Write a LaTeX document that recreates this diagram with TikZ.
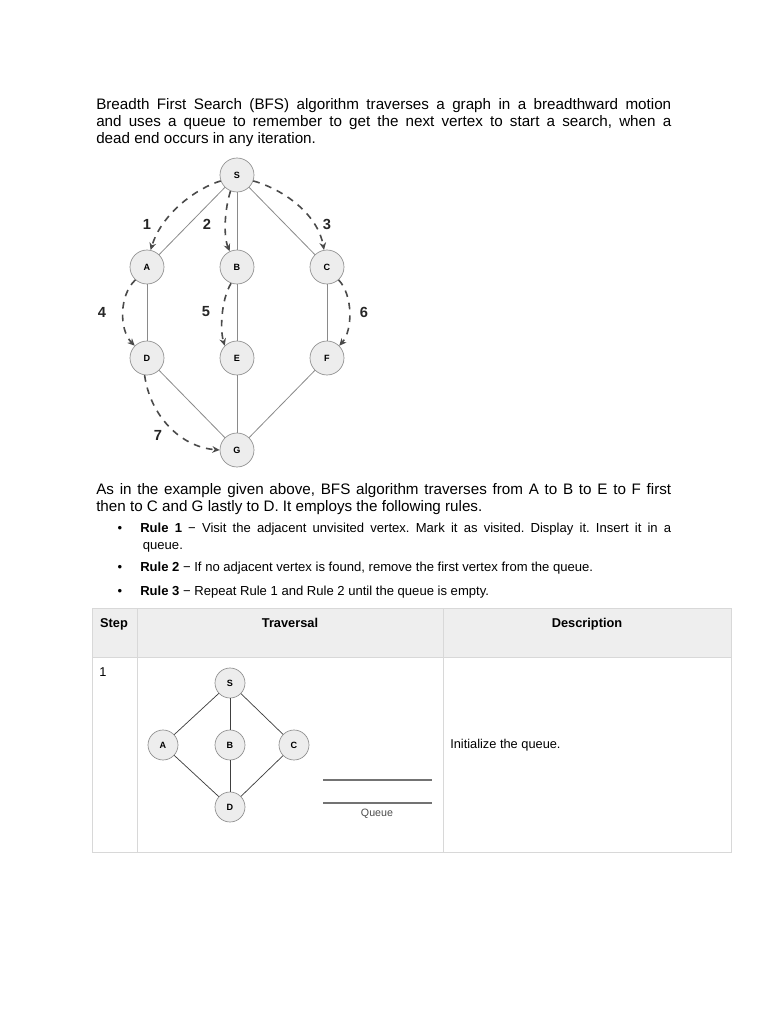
\documentclass[tikz,border=0pt]{standalone}
\usepackage{fontspec}
\setmainfont{Liberation Sans}
\usetikzlibrary{arrows.meta}
\frenchspacing
\definecolor{nodefill}{HTML}{EDEDED}
\definecolor{nodeline}{HTML}{8E8E8E}
\definecolor{edgecol}{HTML}{8A8A8A}
\definecolor{travcol}{HTML}{4A4A4A}
\definecolor{tblline}{HTML}{D8D8D8}
\definecolor{tblhead}{HTML}{EEEEEE}
\begin{document}
\begin{tikzpicture}[x=0.75pt,y=-0.75pt,
 vtx/.style={circle,draw=nodeline,fill=nodefill,minimum size=25.5pt,inner sep=0pt,line width=0.5pt,font=\fontsize{6.8}{7}\selectfont\bfseries},
 svtx/.style={vtx,minimum size=22.5pt},
 edge/.style={draw=edgecol,line width=0.6pt},
 sedge/.style={draw=black!75,line width=0.55pt},
 trav/.style={draw=travcol,line width=1.2pt,dash pattern=on 5pt off 4.5pt,-{Stealth[length=5.5pt,width=5pt]}},
 num/.style={inner sep=0pt,font=\fontsize{11}{12}\selectfont\bfseries,text=black!85},
 para/.style={anchor=base west,inner sep=0pt,text width=431.25pt,align=justify,font=\fontsize{11.4}{12.75}\selectfont},
 rule/.style={anchor=base west,inner sep=0pt,text width=398.25pt,align=justify,font=\fontsize{9.8}{12.75}\selectfont},
 bul/.style={anchor=base,inner sep=0pt,font=\fontsize{9.8}{12.75}\selectfont},
 tbl/.style={draw=tblline,line width=0.75pt},
 head/.style={anchor=base,inner sep=0pt,font=\fontsize{9.6}{11}\selectfont\bfseries},
 cell/.style={anchor=base west,inner sep=0pt,font=\fontsize{9.6}{11}\selectfont}
]
\useasboundingbox (0,0) rectangle (768,1024);

% ---- text ----
\node[para] (p1) at (96,109) {Breadth First Search (BFS) algorithm traverses a graph in a breadthward motion\linebreak and uses a queue to remember to get the next vertex to start a search, when a\linebreak dead end occurs in any iteration.};

% ---- main graph ----
\node[vtx] (S) at (237,175) {S};
\node[vtx] (A) at (147,267) {A};
\node[vtx] (B) at (237,267) {B};
\node[vtx] (C) at (327,267) {C};
\node[vtx] (D) at (147,358) {D};
\node[vtx] (E) at (237,358) {E};
\node[vtx] (F) at (327,358) {F};
\node[vtx] (G) at (237,450) {G};

\draw[edge] (S) -- (A);
\draw[edge] (S) -- (B);
\draw[edge] (S) -- (C);
\draw[edge] (A) -- (D);
\draw[edge] (B) -- (E);
\draw[edge] (C) -- (F);
\draw[edge] (D) -- (G);
\draw[edge] (E) -- (G);
\draw[edge] (F) -- (G);

\draw[trav] (S.200) .. controls (197,188) and (162,213) .. (A.78);
\draw[trav] (S.248) .. controls (225,208) and (223,235) .. (B.115);
\draw[trav] (S.340) .. controls (285,190) and (318,215) .. (C.100);
\draw[trav] (A.228) .. controls (119,295) and (119,330) .. (D.135);
\draw[trav] (B.250) .. controls (221,300) and (220,330) .. (E.135);
\draw[trav] (C.312) .. controls (353,295) and (353,330) .. (F.45);
\draw[trav] (D.262) .. controls (150,415) and (180,447) .. (G.180);

\node[num] (n1) at (147,224) {1};
\node[num] (n2) at (207,224) {2};
\node[num] (n3) at (327,224) {3};
\node[num] (n4) at (102,312) {4};
\node[num] (n5) at (206,312) {5};
\node[num] (n6) at (364,312) {6};
\node[num] (n7) at (158,435) {7};

\node[para] (p2) at (96,494) {As in the example given above, BFS algorithm traverses from A to B to E to F first\linebreak then to C and G lastly to D. It employs the following rules.};

\node[bul] (b1) at (120,532) {\textbullet};
\node[rule] (r1) at (140,532) {\textbf{Rule 1} − Visit the adjacent unvisited vertex. Mark it as visited. Display it. Insert it in a\linebreak\hspace*{2pt}queue.};
\node[bul] (b2) at (120,571) {\textbullet};
\node[rule] (r2) at (140,571) {\textbf{Rule 2} − If no adjacent vertex is found, remove the first vertex from the queue.};
\node[bul] (b3) at (120,595) {\textbullet};
\node[rule] (r3) at (140,595) {\textbf{Rule 3} − Repeat Rule 1 and Rule 2 until the queue is empty.};

% ---- table ----
\fill[tblhead] (92,608) rectangle (731,657);
\draw[tbl] (92,608) rectangle (731,852);
\draw[tbl] (92,657) -- (731,657);
\draw[tbl] (137,608) -- (137,852);
\draw[tbl] (443,608) -- (443,852);

\node[head] (h1) at (114,627) {Step};
\node[head] (h2) at (290,627) {Traversal};
\node[head] (h3) at (587,627) {Description};
\node[cell] (c1) at (99,676) {1};
\node[cell] (c3) at (450,748) {Initialize the queue.};

% ---- small graph ----
\node[svtx] (s) at (230,683) {S};
\node[svtx] (a) at (163,745) {A};
\node[svtx] (b) at (230,745) {B};
\node[svtx] (c) at (294,745) {C};
\node[svtx] (d) at (230,807) {D};
\draw[sedge] (s) -- (a);
\draw[sedge] (s) -- (b);
\draw[sedge] (s) -- (c);
\draw[sedge] (a) -- (d);
\draw[sedge] (b) -- (d);
\draw[sedge] (c) -- (d);

\coordinate (q1l) at (323,780);
\coordinate (q1r) at (432,780);
\coordinate (q2l) at (323,803);
\coordinate (q2r) at (432,803);
\draw[draw=black!55,line width=0.9pt] (q1l) -- (q1r);
\draw[draw=black!55,line width=0.9pt] (q2l) -- (q2r);
\node[inner sep=0pt,font=\fontsize{8}{9}\selectfont,text=black!70] (ql) at (377,814) {Queue};
\end{tikzpicture}
\end{document}
